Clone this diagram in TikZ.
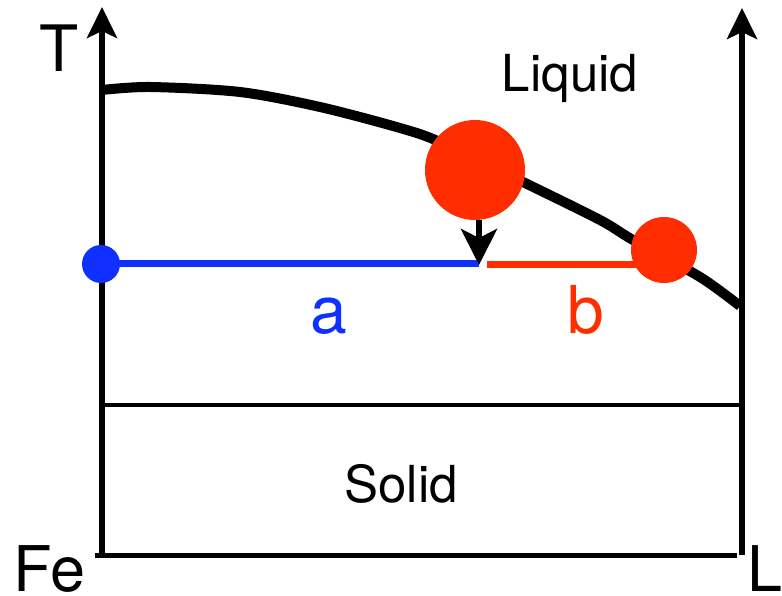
\documentclass[tikz,border=0pt]{standalone}
\usepackage{fontspec}
\setmainfont{TeX Gyre Heros}
\usepackage{tikz}
\usetikzlibrary{arrows.meta}
\usepackage{xcolor}
\definecolor{dotblue}{RGB}{16,48,255}
\definecolor{dotred}{RGB}{255,45,0}

\begin{document}
\begin{tikzpicture}[x=1pt,y=-1pt,
  axis/.style={line width=5.5pt,-{Stealth[length=31pt,width=30pt,inset=7pt]}},
  dot/.style={circle,inner sep=0pt,fill=#1},
  lbl/.style={anchor=base,inner sep=0pt}]
  \useasboundingbox (0,0) rectangle (782,596);
  \coordinate (O) at (102,555); \coordinate (Otop) at (102,7);
  \coordinate (E) at (742,555); \coordinate (Etop) at (742,8);
  \coordinate (B0) at (95,555); \coordinate (B1) at (737,555);
  \coordinate (S0) at (102,405); \coordinate (S1) at (742,405);
  \draw[axis] (O) -- (Otop); \draw[axis] (E) -- (Etop);
  \draw[line width=5pt] (B0) -- (B1);
  \draw[line width=4.5pt] (S0) -- (S1);
  % liquidus
  \draw[line width=10pt,line join=round] plot[smooth,tension=0.5] coordinates
    {(102,90) (150,87) (240,92) (320,107) (400,128) (440,142) (523,182)
     (600,220) (633,240) (700,277) (740,306)};
  \node[dot=dotblue,minimum size=38pt] (blue) at (101,264) {};
  \node[dot=dotred,minimum size=100pt] (big) at (475,170) {};
  \node[dot=dotred,minimum size=66pt] (small) at (664,250) {};
  \coordinate (tip) at (479,265); \coordinate (rstart) at (487,265);
  \draw[dotblue,line width=7pt] (blue.center) -- (blue.center -| tip);
  \draw[dotred,line width=7pt] (rstart) -- (rstart -| small);
  \draw[line width=6pt,-{Stealth[length=36pt,width=36pt,inset=9pt]}] (big.south -| tip) -- (tip);
  \node[lbl,font=\fontsize{64}{70}\selectfont] (T) at (59,72) {T};
  \node[lbl,font=\fontsize{63}{70}\selectfont] (Fe) at (49,591) {Fe};
  \node[lbl,font=\fontsize{63}{70}\selectfont] (L) at (765,591) {L};
  \node[lbl,font=\fontsize{51}{56}\selectfont] (liq) at (570,92) {Liquid};
  \node[lbl,font=\fontsize{51}{56}\selectfont] (sol) at (401,502) {Solid};
  \node[lbl,font=\fontsize{66}{72}\selectfont,text=dotblue] (a) at (329,333) {a};
  \node[lbl,font=\fontsize{66}{72}\selectfont,text=dotred] (b) at (586,333) {b};
\end{tikzpicture}
\end{document}
